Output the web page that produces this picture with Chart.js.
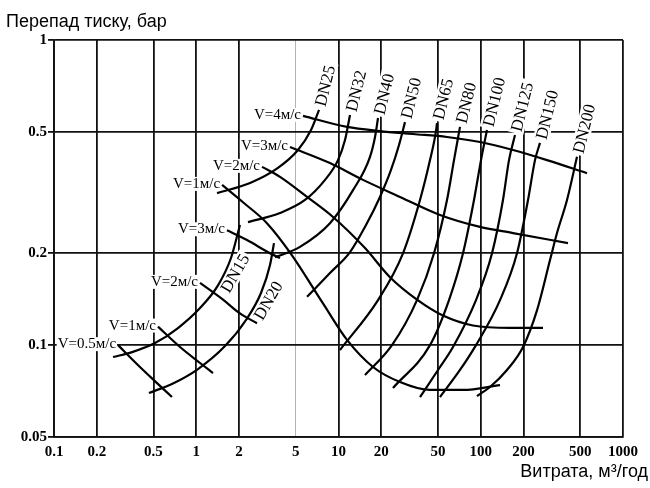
<!DOCTYPE html>
<html>
<head>
<meta charset="utf-8">
<script src="https://cdn.jsdelivr.net/npm/chart.js@4.4.1/dist/chart.umd.min.js"></script>
<style>
  body { margin: 0; background: #fff; }
  canvas { display: block; }
</style>
</head>
<body>
<canvas id="nomogram" width="650" height="488"></canvas>
<script>
// витрата (м3/год) / перепад тиску (бар), точки зчитані з номограми

// труби DN15, DN20 (нижня група)
const dn15 = [[0.26, 0.0914], [0.354, 0.0949], [0.513, 0.1016], [0.744, 0.1138], [1.063, 0.1323], [1.422, 0.157], [1.755, 0.193], [2.03, 0.2475]];
const dn20 = [[0.465, 0.0697], [0.675, 0.0746], [1.029, 0.0835], [1.593, 0.0993], [2.237, 0.1209], [2.852, 0.1482], [3.30, 0.183], [3.52, 0.216]];

// труби DN25 ... DN200
const dn25 = [[1.40, 0.315], [2.39, 0.340], [3.755, 0.381], [5.19, 0.436], [6.41, 0.507], [7.30, 0.590]];
const dn32 = [[2.31, 0.253], [3.88, 0.271], [5.815, 0.299], [8.04, 0.348], [9.92, 0.404], [11.11, 0.470], [12.05, 0.568]];
const dn40 = [[3.58, 0.194], [5.36, 0.210], [8.71, 0.251], [12.65, 0.322], [16.65, 0.414], [18.06, 0.481], [18.96, 0.555]];
const dn50 = [[6.01, 0.144], [8.71, 0.1723], [12.05, 0.2019], [15.61, 0.2475], [19.57, 0.306], [23.39, 0.375], [26.63, 0.453], [29.34, 0.538]];
const dn65 = [[10.24, 0.0964], [18.96, 0.1405], [28.4, 0.200], [37.41, 0.299], [43.98, 0.404], [48.46, 0.503], [49.24, 0.534]];
const dn80 = [[15.36, 0.0798], [23.77, 0.100], [35.63, 0.1405], [46.94, 0.200], [57.91, 0.299], [64.86, 0.404], [71.46, 0.519]];
const dn100 = [[24.16, 0.0724], [43.98, 0.100], [59.82, 0.1405], [75.02, 0.200], [89.65, 0.299], [100.4, 0.404], [110.6, 0.507]];
const dn125 = [[37.41, 0.0676], [50.07, 0.0829], [63.81, 0.0986], [92.6, 0.1405], [120, 0.200], [143.3, 0.299], [158, 0.404], [174.1, 0.488]];
const dn150 = [[51.7, 0.0676], [71.46, 0.0829], [92.6, 0.100], [136.6, 0.1405], [179.8, 0.200], [214.9, 0.299], [240.6, 0.404], [260.9, 0.460]];
const dn200 = [[94.1, 0.0681], [116.1, 0.0729], [152.9, 0.0829], [198.2, 0.0986], [248.5, 0.130], [306.8, 0.190], [343.6, 0.233], [404, 0.299], [475, 0.414]];

// лінії швидкості, верхня група
const v4 = [[5.63, 0.564], [11.48, 0.519], [19.57, 0.503], [33.4, 0.492], [57.91, 0.481], [98.79, 0.463], [168.6, 0.436], [292.2, 0.404], [558.4, 0.366]];
const v3 = [[4.56, 0.446], [8.71, 0.395], [14.87, 0.348], [27.06, 0.306], [51.7, 0.267], [98.79, 0.244], [168.6, 0.233], [410.6, 0.216]];
const v2 = [[2.90, 0.384], [3.88, 0.356], [6.01, 0.306], [9.15, 0.263], [15.36, 0.208], [23.01, 0.167], [35.63, 0.141], [54.28, 0.125], [88.21, 0.116], [160.6, 0.114], [273.9, 0.114]];
const v1 = [[1.52, 0.335], [2.13, 0.294], [3.14, 0.251], [4.71, 0.197], [7.78, 0.137], [11.48, 0.104], [17.48, 0.0848], [27.06, 0.0757], [43.98, 0.0713], [75.02, 0.0713], [136.6, 0.074]];

// лінії швидкості, нижня група
const v3low = [[1.645, 0.238], [2.274, 0.221], [3.30, 0.200], [3.879, 0.193]];
const v2low = [[1.063, 0.160], [1.542, 0.141], [2.03, 0.127], [2.673, 0.118]];
const v1low = [[0.538, 0.115], [0.769, 0.0986], [1.063, 0.0874], [1.311, 0.081]];
const v05low = [[0.282, 0.100], [0.402, 0.0848], [0.530, 0.0751], [0.675, 0.0676]];

const pipeNames = ['DN15', 'DN20', 'DN25', 'DN32', 'DN40', 'DN50', 'DN65', 'DN80', 'DN100', 'DN125', 'DN150', 'DN200'];
const pipeCurves = [dn15, dn20, dn25, dn32, dn40, dn50, dn65, dn80, dn100, dn125, dn150, dn200];
const speedNames = ['V=4м/с', 'V=3м/с', 'V=2м/с', 'V=1м/с', 'V=3м/с', 'V=2м/с', 'V=1м/с', 'V=0.5м/с'];
const speedCurves = [v4, v3, v2, v1, v3low, v2low, v1low, v05low];

const xTicks = [0.1, 0.2, 0.5, 1, 2, 5, 10, 20, 50, 100, 200, 500, 1000];
const xTickLabels = ['0.1', '0.2', '0.5', '1', '2', '5', '10', '20', '50', '100', '200', '500', '1000'];
const yTicks = [0.05, 0.1, 0.2, 0.5, 1];
const yTickLabels = ['0.05', '0.1', '0.2', '0.5', '1'];

const toXY = pts => pts.map(p => ({ x: p[0], y: p[1] }));

const datasets = [];
pipeCurves.forEach((c, i) => datasets.push({ label: pipeNames[i], data: toXY(c) }));
speedCurves.forEach((c, i) => datasets.push({ label: speedNames[i], data: toXY(c) }));
datasets.forEach(d => {
    d.showLine = true;
    d.borderColor = '#000';
    d.borderWidth = 2.2;
    d.pointRadius = 0;
    d.cubicInterpolationMode = 'monotone';
    d.fill = false;
});

// підписи кривих і осей
const labelPlugin = {
    id: 'curveLabels',
    beforeDatasetsDraw(chart) {
        const ctx = chart.ctx;
        const xs = chart.scales.x, ys = chart.scales.y;
        const px = p => [xs.getPixelForValue(p[0]), ys.getPixelForValue(p[1])];
        ctx.save();

        // V=... на початку ліній швидкості
        ctx.font = '15px "Liberation Serif", serif';
        ctx.textAlign = 'right';
        ctx.textBaseline = 'middle';
        speedCurves.forEach((c, i) => {
            const [x, y] = px(c[0]);
            const w = ctx.measureText(speedNames[i]).width;
            ctx.fillStyle = '#fff';
            ctx.fillRect(x - w - 3, y - 8, w + 2, 14);
            ctx.fillStyle = '#000';
            ctx.fillText(speedNames[i], x - 2, y - 1);
        });

        // DN25..DN200 над верхнім кінцем кривої
        ctx.font = '17px "Liberation Serif", serif';
        ctx.textAlign = 'left';
        pipeCurves.forEach((c, i) => {
            if (i < 2) return;
            const [x, y] = px(c[c.length - 1]);
            const w = ctx.measureText(pipeNames[i]).width;
            ctx.save();
            ctx.translate(x, y);
            ctx.rotate(-76 * Math.PI / 180);
            ctx.fillStyle = '#fff';
            ctx.fillRect(2, -8, w + 5, 16);
            ctx.fillStyle = '#000';
            ctx.fillText(pipeNames[i], 4, 1);
            ctx.restore();
        });

        // DN15, DN20 збоку від кривої
        [[0, 5, 0.6], [1, 4, 0.9]].forEach(([i, seg, t]) => {
            const c = pipeCurves[i];
            const a = px(c[seg]), b = px(c[seg + 1]);
            const ang = Math.atan2(b[1] - a[1], b[0] - a[0]);
            const mx = a[0] + (b[0] - a[0]) * t, my = a[1] + (b[1] - a[1]) * t;
            const nx = mx + Math.cos(ang + Math.PI / 2) * 10;
            const ny = my + Math.sin(ang + Math.PI / 2) * 10;
            const w = ctx.measureText(pipeNames[i]).width;
            ctx.save();
            ctx.translate(nx, ny);
            ctx.rotate(-60 * Math.PI / 180);
            ctx.textAlign = 'center';
            ctx.fillStyle = '#fff';
            ctx.fillRect(-w / 2 - 2, -8, w + 4, 16);
            ctx.fillStyle = '#000';
            ctx.fillText(pipeNames[i], 0, 1);
            ctx.restore();
        });
        ctx.restore();
    },
    afterDraw(chart) {
        const ctx = chart.ctx;
        ctx.save();
        ctx.fillStyle = '#000';
        ctx.textBaseline = 'middle';
        ctx.font = '18px "Liberation Sans", Arial, sans-serif';
        ctx.textAlign = 'left';
        ctx.fillText('Перепад тиску, бар', 6, 22);
        ctx.textAlign = 'right';
        ctx.fillText('Витрата, м³/год', 648, 472);
        ctx.restore();
    }
};

const gridColor = c => (c.tick && c.tick.value === 5) ? '#b4b4b4' : '#111';
const gridWidth = c => (c.tick && c.tick.value === 5) ? 1 : 1.8;

new Chart(document.getElementById('nomogram'), {
    type: 'scatter',
    data: { datasets: datasets },
    options: {
        responsive: false,
        animation: false,
        devicePixelRatio: 1,
        layout: { padding: { top: 40, right: 27, bottom: 0, left: 0 } },
        plugins: {
            legend: { display: false },
            tooltip: { enabled: false }
        },
        scales: {
            x: {
                type: 'logarithmic',
                min: 0.1,
                max: 1000,
                afterBuildTicks: s => { s.ticks = xTicks.map(v => ({ value: v })); },
                afterFit: s => { s.height = 51; },
                grid: { color: gridColor, lineWidth: gridWidth, drawTicks: false },
                border: { color: '#111', width: 1.8 },
                ticks: {
                    autoSkip: false,
                    maxRotation: 0,
                    padding: 6,
                    color: '#000',
                    font: { family: '"Liberation Serif", serif', size: 15, weight: 'bold' },
                    callback: v => xTickLabels[xTicks.indexOf(v)]
                }
            },
            y: {
                type: 'logarithmic',
                min: 0.05,
                max: 1,
                afterBuildTicks: s => { s.ticks = yTicks.map(v => ({ value: v })); },
                afterFit: s => { s.width = 54; },
                grid: { color: '#111', lineWidth: 1.8, tickLength: 6, tickColor: '#111' },
                border: { color: '#111', width: 1.8 },
                ticks: {
                    autoSkip: false,
                    padding: 1,
                    color: '#000',
                    font: { family: '"Liberation Serif", serif', size: 15, weight: 'bold' },
                    callback: v => yTickLabels[yTicks.indexOf(v)]
                }
            }
        }
    },
    plugins: [labelPlugin]
});
</script>
</body>
</html>
